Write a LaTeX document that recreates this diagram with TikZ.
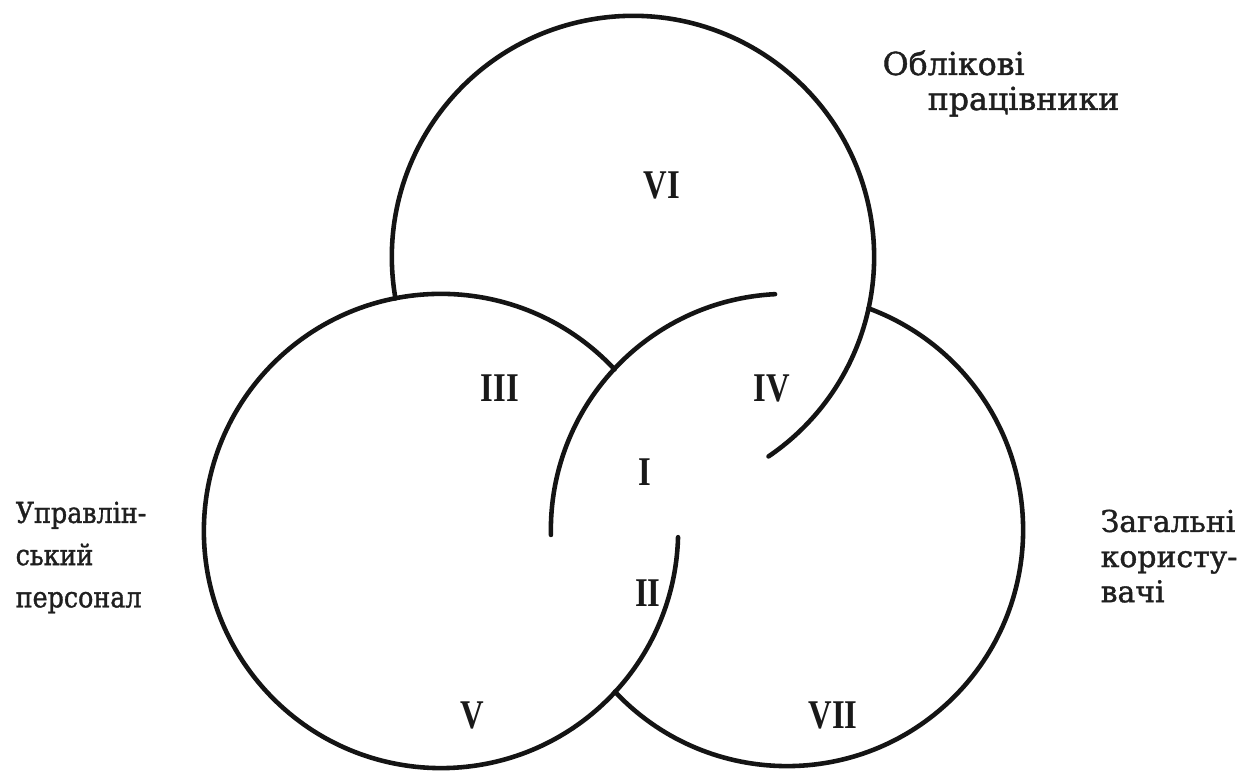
\documentclass[tikz,border=0pt]{standalone}
\usepackage{fontspec}
\usepackage{graphicx}
\newfontfamily\labfont[FakeBold=1.3]{DejaVu Serif}
\newfontfamily\numfont{Liberation Serif}
\newcommand{\rn}[1]{\scalebox{0.8}[1]{#1}}
\newcommand{\nar}[1]{\scalebox{0.88}[1]{#1}}
\begin{document}
\begin{tikzpicture}[x=0.01cm,y=0.01cm,
  ring/.style={line width=1.3pt, line cap=round, draw=black!92},
  num/.style={inner sep=0pt, font=\numfont\bfseries\fontsize{11.6}{12}\selectfont, text=black!90},
  lab/.style={inner sep=0pt, align=left, text=black!88}]
\useasboundingbox[fill=white] (0,0) rectangle (1244,779);
% circle centres
\coordinate (T) at (633,522);
\coordinate (L) at (441,248);
\coordinate (R) at (787,249);
% interlocked circles
\draw[ring] (T) ++(189.9:2.41cm) arc[start angle=189.9, end angle=-55.8, radius=2.41cm];
\draw[ring] (L) ++(42.95:2.37cm) arc[start angle=42.95, end angle=358.5, radius=2.37cm];
\draw[ring] (R) ++(92.9:2.36cm) arc[start angle=92.9, end angle=181.2, radius=2.36cm];
\draw[ring] (R) ++(223.2:2.36cm) arc[start angle=223.2, end angle=429.8, radius=2.36cm];
% region numbers
\node[num] (n6) at (662,594) {\rn{VI}};
\node[num] (n3) at (500,391) {\rn{III}};
\node[num] (n4) at (772,391) {\rn{IV}};
\node[num] (n1) at (645,307) {\rn{I}};
\node[num] (n2) at (648,186) {\rn{II}};
\node[num] (n5) at (472,64) {\rn{V}};
\node[num] (n7) at (833,64) {\rn{VII}};
% group labels
\node[lab, anchor=base west, font=\labfont\fontsize{9}{10}\selectfont] (acc1) at (882,704) {Облікові};
\node[lab, anchor=base west, font=\labfont\fontsize{9}{10}\selectfont] (acc2) at (927,669) {працівники};
\node[lab, anchor=north west, font=\labfont\fontsize{8.2}{12}\selectfont] (mgmt) at (15,278) {\nar{Управлін-}\\\nar{ський}\\\nar{персонал}};
\node[lab, anchor=north west, font=\labfont\fontsize{8.5}{10}\selectfont] (gen) at (1100,270) {Загальні\\користу-\\вачі};
\end{tikzpicture}
\end{document}
